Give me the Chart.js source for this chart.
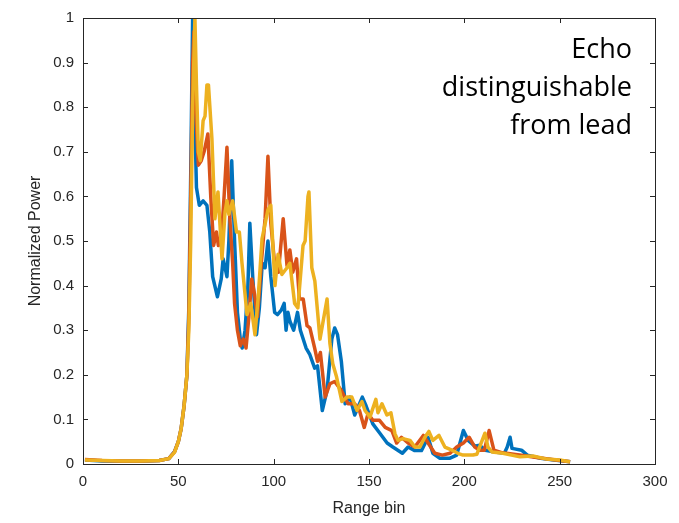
<!DOCTYPE html>
<html>
<head>
<meta charset="utf-8">
<script src="https://cdn.jsdelivr.net/npm/chart.js@4"></script>
<style>
  html, body { margin: 0; padding: 0; background: #fff; }
  #wrap { position: relative; width: 679px; height: 523px; }
  #note {
    position: absolute; right: 47px; top: 29px;
    font-family: "Open Sans", sans-serif; font-size: 27px; line-height: 38px;
    text-align: right; color: #000;
  }
</style>
</head>
<body>
<div id="wrap">
  <canvas id="myChart" width="679" height="523"></canvas>
  <div id="note">Echo<br>distinguishable<br>from lead</div>
</div>
<script>
// range bins and normalized power
let blueBins = [1, 10, 20, 30, 40, 45, 48, 50, 51.5, 53, 54.5, 55.5, 56.5, 57.5, 58.5, 59.5, 61, 63, 65, 66.5, 68, 70.5, 72.5, 73.5, 75.5, 76.5, 78, 79.5, 81, 82.5, 83.5, 85, 86.5, 87.5, 89, 91, 92.5, 94, 95.5, 97, 98.5, 100.5, 102, 104, 105.5, 106.5, 107.5, 108.5, 110.5, 112.5, 114, 117, 119, 121.5, 123, 125.5, 128, 130.5, 132, 133.5, 135.5, 137.5, 140, 142.5, 146.5, 148.5, 152, 155.5, 159.5, 162.5, 167.5, 170.5, 174, 177.5, 181, 183.5, 187, 192.5, 196, 199.5, 202, 205.5, 208, 211, 216, 221, 222.5, 224, 225, 230, 233, 240, 247, 255.5];
let blueVals = [0.009, 0.007, 0.006, 0.006, 0.008, 0.012, 0.028, 0.05, 0.08, 0.13, 0.2, 0.35, 0.65, 1.0, 0.8, 0.62, 0.58, 0.59, 0.58, 0.52, 0.42, 0.375, 0.415, 0.46, 0.42, 0.5, 0.68, 0.5, 0.34, 0.28, 0.26, 0.3, 0.4, 0.54, 0.42, 0.29, 0.35, 0.45, 0.44, 0.5, 0.42, 0.34, 0.335, 0.345, 0.36, 0.3, 0.34, 0.32, 0.3, 0.34, 0.3, 0.26, 0.245, 0.215, 0.22, 0.12, 0.165, 0.28, 0.305, 0.29, 0.23, 0.135, 0.15, 0.11, 0.15, 0.13, 0.09, 0.07, 0.047, 0.038, 0.024, 0.038, 0.03, 0.03, 0.06, 0.024, 0.013, 0.013, 0.02, 0.075, 0.053, 0.04, 0.042, 0.031, 0.027, 0.024, 0.038, 0.06, 0.035, 0.031, 0.02, 0.013, 0.009, 0.005];

let orangeBins = [1, 10, 20, 30, 40, 45, 48, 50, 51.5, 53, 54.5, 55.5, 56.5, 57.5, 58.2, 59, 60.5, 62, 63.5, 65.5, 67, 68.5, 70, 71, 72.5, 74, 75.5, 77, 78.5, 79.5, 81, 82.5, 84, 85.5, 87, 88.5, 90, 91.5, 93.5, 95.5, 97, 98.5, 100.5, 102.5, 105, 107, 108.5, 110, 112, 113.5, 115.5, 117.5, 119, 121.5, 123, 124.5, 127, 129.5, 132, 135.5, 139, 142.5, 145, 147.5, 149.5, 152, 155.5, 158.5, 162, 164.5, 167, 170.5, 174, 178.5, 181, 184.5, 188.5, 192.5, 196, 199.5, 202.5, 205.5, 208, 210.5, 213, 215.5, 220, 229, 237, 246, 255.5];
let orangeVals = [0.01, 0.008, 0.007, 0.007, 0.008, 0.012, 0.027, 0.05, 0.08, 0.13, 0.2, 0.33, 0.6, 0.9, 0.97, 0.8, 0.67, 0.68, 0.7, 0.74, 0.6, 0.49, 0.52, 0.49, 0.5, 0.6, 0.71, 0.55, 0.45, 0.36, 0.3, 0.265, 0.28, 0.26, 0.33, 0.415, 0.38, 0.33, 0.45, 0.55, 0.69, 0.54, 0.45, 0.43, 0.55, 0.445, 0.48, 0.43, 0.46, 0.37, 0.37, 0.31, 0.305, 0.26, 0.23, 0.25, 0.15, 0.18, 0.185, 0.165, 0.135, 0.135, 0.12, 0.082, 0.113, 0.098, 0.098, 0.082, 0.075, 0.047, 0.06, 0.047, 0.038, 0.064, 0.047, 0.024, 0.02, 0.024, 0.038, 0.047, 0.06, 0.038, 0.031, 0.031, 0.075, 0.031, 0.025, 0.02, 0.015, 0.01, 0.005];

let yellowBins = [1, 10, 20, 30, 40, 45, 48, 50, 51.5, 53, 54.5, 55.5, 56.5, 57.5, 58.7, 59.5, 60.5, 61.5, 63, 64, 65, 65.8, 67.6, 69.2, 70.8, 72.9, 74.5, 75.5, 76.5, 78.5, 80.5, 82, 83.4, 85, 86, 88, 90.2, 92, 93.9, 97, 98.5, 100.7, 102.3, 104.3, 107, 108.5, 111, 112.7, 115.4, 116.5, 118, 118.5, 120, 121.6, 124.3, 128, 129.5, 131, 133, 135.8, 138.4, 141, 143.7, 146.3, 147.9, 150.5, 153.6, 154.7, 156.8, 159.4, 161.5, 163.6, 165.2, 167.8, 171.5, 174.1, 176.7, 179.3, 181.4, 183.5, 186.7, 189.8, 193.5, 196.6, 199.3, 204.5, 206.6, 210.8, 212.4, 214.5, 220.2, 229.2, 236, 243.3, 250, 255.4];
let yellowVals = [0.009, 0.008, 0.007, 0.007, 0.008, 0.012, 0.026, 0.05, 0.08, 0.13, 0.2, 0.3, 0.5, 0.8, 1.0, 0.85, 0.7, 0.68, 0.77, 0.78, 0.85, 0.85, 0.73, 0.55, 0.61, 0.46, 0.565, 0.59, 0.56, 0.59, 0.52, 0.52, 0.45, 0.38, 0.335, 0.36, 0.29, 0.38, 0.505, 0.57, 0.58, 0.4, 0.47, 0.425, 0.44, 0.45, 0.36, 0.35, 0.49, 0.5, 0.6, 0.61, 0.44, 0.41, 0.28, 0.37, 0.27, 0.225, 0.195, 0.14, 0.15, 0.15, 0.12, 0.14, 0.12, 0.105, 0.145, 0.115, 0.135, 0.11, 0.115, 0.068, 0.053, 0.057, 0.053, 0.038, 0.038, 0.06, 0.073, 0.053, 0.064, 0.038, 0.031, 0.024, 0.02, 0.02, 0.022, 0.069, 0.038, 0.027, 0.024, 0.016, 0.018, 0.011, 0.009, 0.005];

let xTicks = [0, 50, 100, 150, 200, 250, 300];
let yTicks = [0, 0.1, 0.2, 0.3, 0.4, 0.5, 0.6, 0.7, 0.8, 0.9, 1];

function toPoints(bins, vals) {
  let pts = [];
  bins.forEach((b, i) => {
    pts.push({ x: b, y: vals[i] });
  });
  return pts;
}

function makeSet(bins, vals, color, ord) {
  return {
    data: toPoints(bins, vals),
    borderColor: color,
    backgroundColor: color,
    borderWidth: 3.5,
    pointRadius: 0,
    tension: 0,
    borderJoinStyle: 'round',
    order: ord
  };
}

const axisColor = '#262626';

// MATLAB style box with inward ticks on all four sides
const boxPlugin = {
  id: 'box',
  afterDraw(chart) {
    const c = chart.ctx;
    const a = chart.chartArea;
    const xs = chart.scales.x;
    const ys = chart.scales.y;
    c.save();
    c.strokeStyle = axisColor;
    c.lineWidth = 1;
    c.strokeRect(Math.round(a.left) + 0.5, Math.round(a.top) + 0.5,
      Math.round(a.right - a.left), Math.round(a.bottom - a.top));
    c.beginPath();
    xs.ticks.forEach(t => {
      let px = Math.round(xs.getPixelForValue(t.value)) + 0.5;
      c.moveTo(px, a.bottom); c.lineTo(px, a.bottom - 5);
      c.moveTo(px, a.top); c.lineTo(px, a.top + 5);
    });
    ys.ticks.forEach(t => {
      let py = Math.round(ys.getPixelForValue(t.value)) + 0.5;
      c.moveTo(a.left, py); c.lineTo(a.left + 5, py);
      c.moveTo(a.right, py); c.lineTo(a.right - 5, py);
    });
    c.stroke();
    c.restore();
  }
};

const ctx = document.getElementById('myChart');

new Chart(ctx, {
  type: 'line',
  data: {
    datasets: [
      makeSet(blueBins, blueVals, '#0072BD', 3),
      makeSet(orangeBins, orangeVals, '#D95319', 2),
      makeSet(yellowBins, yellowVals, '#EDB120', 1)
    ]
  },
  options: {
    responsive: false,
    animation: false,
    events: [],
    layout: { padding: { left: 0, top: 14, right: 24, bottom: 0 } },
    plugins: {
      legend: { display: false },
      tooltip: { enabled: false }
    },
    scales: {
      x: {
        type: 'linear',
        min: 0, max: 300,
        afterBuildTicks: s => { s.ticks = xTicks.map(v => ({ value: v })); },
        afterFit: s => { s.height = 59; },
        grid: { display: false, drawTicks: false },
        border: { display: false },
        ticks: {
          color: axisColor, padding: 9,
          maxRotation: 0,
          font: { family: 'Liberation Sans', size: 15 }
        },
        title: {
          display: true, text: 'Range bin', color: axisColor,
          padding: { top: 4, bottom: 5 },
          font: { family: 'Liberation Sans', size: 16 }
        }
      },
      y: {
        min: 0, max: 1,
        afterBuildTicks: s => { s.ticks = yTicks.map(v => ({ value: v })); },
        afterFit: s => { s.width = 83; },
        grid: { display: false, drawTicks: false },
        border: { display: false },
        ticks: {
          color: axisColor, padding: 9,
          font: { family: 'Liberation Sans', size: 15 },
          callback: v => String(Math.round(v * 10) / 10)
        },
        title: {
          display: true, text: 'Normalized Power', color: axisColor,
          padding: { top: 26, bottom: 0 },
          font: { family: 'Liberation Sans', size: 16 }
        }
      }
    }
  },
  plugins: [boxPlugin]
});
</script>
</body>
</html>
